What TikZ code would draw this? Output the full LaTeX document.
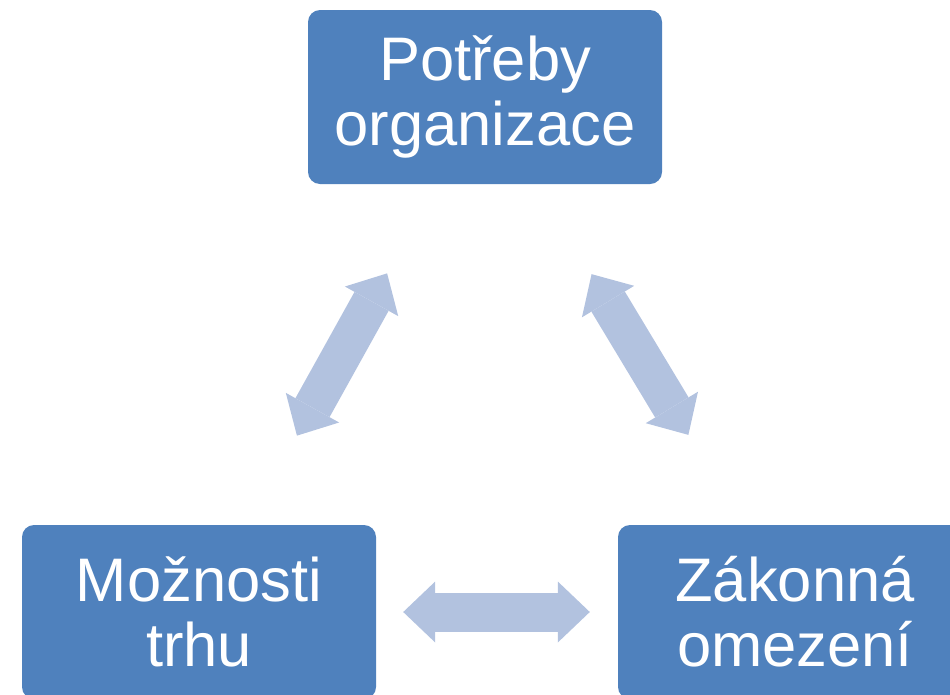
\documentclass[tikz,border=0pt]{standalone}
\usepackage{fontspec}
\setmainfont{Liberation Sans}
\usepackage{xcolor}
\usepackage{tikz}
\usetikzlibrary{arrows.meta, positioning, calc}
\definecolor{BoxBlue}{HTML}{4F81BD}
\definecolor{ArrowTint}{HTML}{B2C2DF}

\begin{document}
\begin{tikzpicture}[x=1pt, y=-1pt,
    every node/.style={font=\fontsize{61.5pt}{65pt}\selectfont},
    goalbox/.style={rounded corners=12pt, fill=BoxBlue, text=white, align=center,
      minimum width=354pt, minimum height=174pt, inner sep=0pt},
    biarrow/.style={draw=ArrowTint, line width=39pt,
      {Triangle[length=32pt, width=61pt, line width=0pt]}-{Triangle[length=32pt, width=61pt, line width=0pt]}}]
  \clip (0,0) rectangle (950,694);
  \node[goalbox] (potreby) at (485,97) {Potřeby\\organizace};
  \node[goalbox] (moznosti) at (199,612) {Možnosti\\trhu};
  \node[goalbox] (zakonna) at (795,612) {Zákonná\\omezení};
  % vazby mezi bloky
  \draw[biarrow, shorten <=102pt, shorten >=102pt] (moznosti) -- (potreby);
  \draw[biarrow, shorten <=105pt, shorten >=105pt] (zakonna) -- (potreby);
  \draw[biarrow, shorten <=27pt, shorten >=28pt] (moznosti) -- (zakonna);
\end{tikzpicture}
\end{document}
